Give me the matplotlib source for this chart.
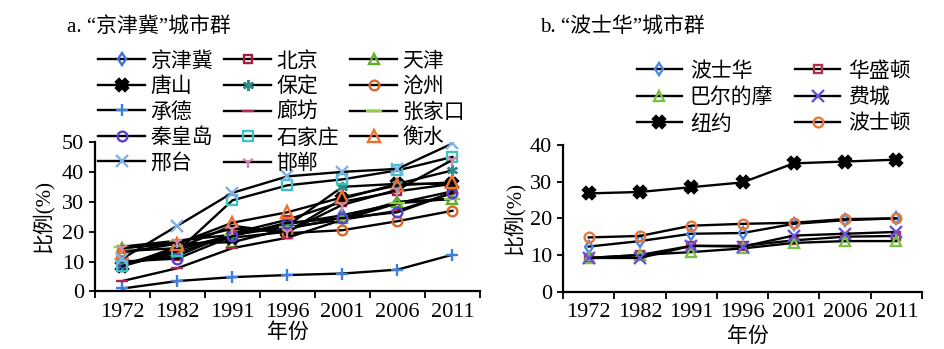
import matplotlib
matplotlib.use("Agg")
import matplotlib.pyplot as plt
import numpy as np

plt.rcParams['font.family'] = ['Liberation Serif', 'Noto Sans CJK SC']
plt.rcParams['axes.unicode_minus'] = False

years = ['1972', '1982', '1991', '1996', '2001', '2006', '2011']

# 京津冀城市群 (%)
jjj_names = ['京津冀', '北京', '天津', '唐山', '保定', '沧州', '承德',
             '廊坊', '张家口', '秦皇岛', '石家庄', '衡水', '邢台', '邯郸']
jjj = [9.0, 13.0, 19.0, 22.5, 25.5, 29.5, 33.5]
beijing = [9.5, 12.0, 19.5, 24.0, 30.0, 33.5, 36.0]
tianjin = [14.5, 16.0, 16.5, 21.0, 24.5, 30.0, 31.0]
tangshan = [8.5, 15.0, 18.0, 20.0, 31.0, 36.0, 36.0]
baoding = [9.0, 14.0, 19.0, 22.0, 35.0, 36.0, 40.5]
cangzhou = [13.5, 14.5, 22.0, 19.5, 20.5, 23.5, 27.0]
chengde = [1.0, 3.5, 4.8, 5.5, 6.0, 7.3, 12.3]
langfang = [3.5, 7.8, 14.5, 18.0, 24.0, 27.0, 33.0]
zhangjiakou = [15.0, 17.0, 19.0, 21.5, 24.0, 29.5, 31.0]
qinhuangdao = [10.0, 11.0, 18.5, 23.0, 24.5, 26.5, 33.0]
shijiazhuang = [8.5, 13.5, 30.5, 35.5, 37.5, 40.5, 45.0]
hengshui = [13.0, 16.0, 23.0, 26.5, 31.5, 35.5, 36.5]
xingtai = [11.0, 22.0, 33.0, 38.5, 40.0, 41.0, 49.5]
handan = [14.5, 16.5, 21.0, 20.0, 29.0, 34.0, 44.0]
jjj_values = [jjj, beijing, tianjin, tangshan, baoding, cangzhou, chengde,
              langfang, zhangjiakou, qinhuangdao, shijiazhuang, hengshui,
              xingtai, handan]

# 波士华城市群 (%)
bw_names = ['波士华', '华盛顿', '巴尔的摩', '费城', '纽约', '波士顿']
boswash = [12.3, 13.8, 15.8, 16.0, 18.5, 19.5, 20.0]
washington = [9.2, 10.0, 12.5, 12.5, 14.0, 15.0, 15.2]
baltimore = [9.2, 10.0, 10.8, 11.8, 13.3, 13.8, 13.8]
philadelphia = [9.2, 9.2, 12.5, 12.3, 15.3, 15.8, 16.3]
newyork = [26.8, 27.2, 28.5, 29.8, 35.0, 35.5, 36.0]
boston = [14.8, 15.2, 18.0, 18.5, 18.8, 19.8, 20.0]
bw_values = [boswash, washington, baltimore, philadelphia, newyork, boston]

# marker, colour, filled, size
jjj_marks = [('d', '#3F6FD8', False, 6), ('s', '#A3203C', False, 6),
             ('^', '#5FAF2A', False, 7), ('X', 'black', True, 8),
             ((6, 2, 0), '#2A8C8C', False, 8), ('o', '#D9692A', False, 7),
             ('+', '#3C7FE0', False, 8), ('_', '#B02050', False, 9),
             ('_', '#8BD33A', False, 12), ('o', '#5B3FD0', False, 7),
             ('s', '#3BC4C0', False, 7), ('^', '#F07030', False, 8),
             ('x', '#7FB0E8', False, 8), ('1', '#D08AB0', False, 9)]
bw_marks = [('d', '#4A86E8', False, 6), ('s', '#B0304A', False, 6),
            ('^', '#7AC143', False, 7), ('x', '#6A4FD8', False, 8),
            ('X', 'black', True, 8), ('o', '#E57A3C', False, 7)]

fig = plt.figure(figsize=(9.45, 3.49), dpi=100)
ax1 = fig.add_axes([0.1005, 0.1648, 0.4074, 0.4284])
ax2 = fig.add_axes([0.5958, 0.1642, 0.3799, 0.4203])

x = np.arange(len(years))


def draw(ax, names, values, marks):
    handles = []
    for name, vals, (m, c, filled, ms) in zip(names, values, marks):
        h, = ax.plot(x, vals, color='black', lw=1.7, marker=m, ms=ms,
                     mec=c, mfc=c if filled else 'none', mew=1.7,
                     label=name)
        handles.append(h)
    ax.set_xlim(-0.5, len(years) - 0.5)
    ax.set_xticks(x)
    ax.set_xticklabels(years)
    ax.set_xticks(np.arange(-0.5, len(years), 1), minor=True)
    ax.tick_params(axis='x', which='major', length=0, pad=8, labelsize=16)
    ax.tick_params(axis='x', which='minor', length=5, width=1.3,
                   direction='out')
    ax.tick_params(axis='y', length=4, width=1.3, direction='out',
                   labelsize=16, pad=4)
    for s in ['top', 'right']:
        ax.spines[s].set_visible(False)
    for s in ['left', 'bottom']:
        ax.spines[s].set_linewidth(1.6)
    ax.set_xlabel('年份', fontsize=15)
    ax.set_ylabel('比例(%)', fontsize=15)
    return handles


h1 = draw(ax1, jjj_names, jjj_values, jjj_marks)
ax1.set_ylim(0, 50)
ax1.set_yticks(np.arange(0, 51, 10))
ax1.yaxis.set_label_coords(-0.108, 0.5)
ax1.xaxis.set_label_coords(0.5, -0.215)

h2 = draw(ax2, bw_names, bw_values, bw_marks)
ax2.set_ylim(0, 40)
ax2.set_yticks(np.arange(0, 41, 10))
ax2.yaxis.set_label_coords(-0.106, 0.5)
ax2.xaxis.set_label_coords(0.515, -0.24)

# legends read row by row, matplotlib fills column by column
order1 = [i for c in range(3) for i in range(c, len(h1), 3)]
fig.legend([h1[i] for i in order1], [jjj_names[i] for i in order1],
           ncol=3, loc='upper left', bbox_to_anchor=(0.104, 0.852),
           frameon=False, fontsize=15, handlelength=2.26, handletextpad=0.25,
           columnspacing=0.53, labelspacing=0.28, borderpad=0,
           borderaxespad=0)

order2 = [i for c in range(2) for i in range(c, len(h2), 2)]
fig.legend([h2[i] for i in order2], [bw_names[i] for i in order2],
           ncol=2, loc='upper left', bbox_to_anchor=(0.674, 0.822),
           frameon=False, fontsize=15, handlelength=2.16, handletextpad=0.38,
           columnspacing=1.06, labelspacing=0.32, borderpad=0,
           borderaxespad=0)

fig.text(0.071, 0.922, 'a. “京津冀”城市群', fontsize=15, va='center')
fig.text(0.571, 0.922, 'b. “波士华”城市群', fontsize=15, va='center')

fig.savefig('out.png', dpi=100)
